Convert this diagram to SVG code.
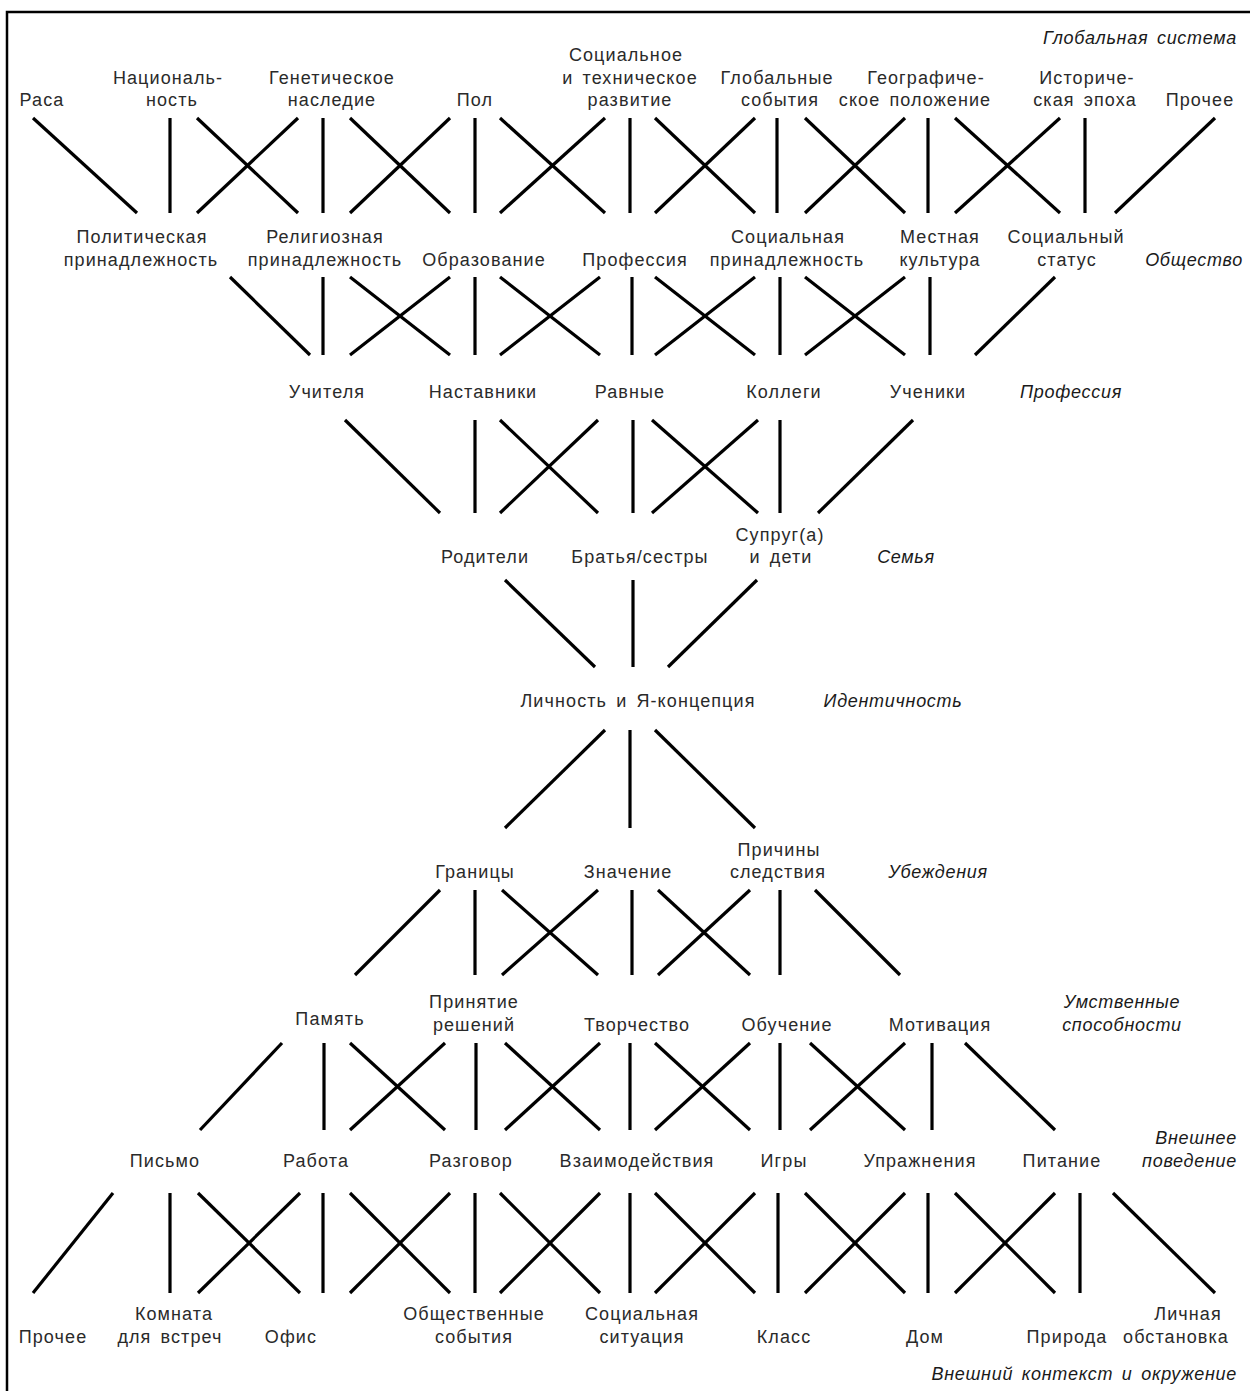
<svg xmlns="http://www.w3.org/2000/svg" width="1250" height="1391" viewBox="0 0 1250 1391">
<style>
text{font-family:"Liberation Sans",Arial,sans-serif;font-size:18px;fill:#2a2a2a;text-anchor:middle;letter-spacing:1.1px;word-spacing:3px}
.lv{font-style:italic;fill:#1a1a1a;letter-spacing:0.7px}
.r{text-anchor:end}
.c line{stroke:#000;stroke-width:3.2;stroke-linecap:butt}
.frame{fill:none;stroke:#000;stroke-width:2.5}
</style>
<rect width="1250" height="1391" fill="#fff"/>
<path class="frame" d="M7,1391 V12 H1250"/>

<g id="connectors" class="c">
<!-- block 1 -->
<line x1="33" y1="118" x2="137" y2="213"/>
<line x1="170" y1="118" x2="170" y2="213"/>
<line x1="197" y1="118" x2="298" y2="213"/><line x1="298" y1="118" x2="197" y2="213"/>
<line x1="323" y1="118" x2="323" y2="213"/>
<line x1="350" y1="118" x2="450" y2="213"/><line x1="450" y1="118" x2="350" y2="213"/>
<line x1="475" y1="118" x2="475" y2="213"/>
<line x1="500" y1="118" x2="605" y2="213"/><line x1="605" y1="118" x2="500" y2="213"/>
<line x1="630" y1="118" x2="630" y2="213"/>
<line x1="655" y1="118" x2="755" y2="213"/><line x1="755" y1="118" x2="655" y2="213"/>
<line x1="777" y1="118" x2="777" y2="213"/>
<line x1="805" y1="118" x2="905" y2="213"/><line x1="905" y1="118" x2="805" y2="213"/>
<line x1="928" y1="118" x2="928" y2="213"/>
<line x1="955" y1="118" x2="1060" y2="213"/><line x1="1060" y1="118" x2="955" y2="213"/>
<line x1="1085" y1="118" x2="1085" y2="213"/>
<line x1="1215" y1="118" x2="1115" y2="213"/>
<!-- block 2 -->
<line x1="230" y1="277" x2="310" y2="355"/>
<line x1="323" y1="277" x2="323" y2="355"/>
<line x1="350" y1="277" x2="450" y2="355"/><line x1="450" y1="277" x2="350" y2="355"/>
<line x1="475" y1="277" x2="475" y2="355"/>
<line x1="500" y1="277" x2="600" y2="355"/><line x1="600" y1="277" x2="500" y2="355"/>
<line x1="632" y1="277" x2="632" y2="355"/>
<line x1="655" y1="277" x2="755" y2="355"/><line x1="755" y1="277" x2="655" y2="355"/>
<line x1="780" y1="277" x2="780" y2="355"/>
<line x1="805" y1="277" x2="905" y2="355"/><line x1="905" y1="277" x2="805" y2="355"/>
<line x1="930" y1="277" x2="930" y2="355"/>
<line x1="1055" y1="277" x2="975" y2="355"/>
<!-- block 3 -->
<line x1="345" y1="420" x2="440" y2="513"/>
<line x1="475" y1="420" x2="475" y2="513"/>
<line x1="500" y1="420" x2="598" y2="513"/><line x1="598" y1="420" x2="500" y2="513"/>
<line x1="633" y1="420" x2="633" y2="513"/>
<line x1="652" y1="420" x2="758" y2="513"/><line x1="758" y1="420" x2="652" y2="513"/>
<line x1="780" y1="420" x2="780" y2="513"/>
<line x1="913" y1="420" x2="818" y2="513"/>
<!-- block 4 -->
<line x1="505" y1="580" x2="595" y2="667"/>
<line x1="633" y1="580" x2="633" y2="667"/>
<line x1="757" y1="580" x2="668" y2="667"/>
<!-- block 5 -->
<line x1="605" y1="730" x2="505" y2="828"/>
<line x1="630" y1="730" x2="630" y2="828"/>
<line x1="655" y1="730" x2="755" y2="828"/>
<!-- block 6 -->
<line x1="440" y1="890" x2="355" y2="975"/>
<line x1="475" y1="890" x2="475" y2="975"/>
<line x1="502" y1="890" x2="598" y2="975"/><line x1="598" y1="890" x2="502" y2="975"/>
<line x1="632" y1="890" x2="632" y2="975"/>
<line x1="658" y1="890" x2="750" y2="975"/><line x1="750" y1="890" x2="658" y2="975"/>
<line x1="780" y1="890" x2="780" y2="975"/>
<line x1="815" y1="890" x2="900" y2="975"/>
<!-- block 7 -->
<line x1="282" y1="1043" x2="200" y2="1130"/>
<line x1="324" y1="1043" x2="324" y2="1130"/>
<line x1="350" y1="1043" x2="445" y2="1130"/><line x1="445" y1="1043" x2="350" y2="1130"/>
<line x1="476" y1="1043" x2="476" y2="1130"/>
<line x1="505" y1="1043" x2="600" y2="1130"/><line x1="600" y1="1043" x2="505" y2="1130"/>
<line x1="630" y1="1043" x2="630" y2="1130"/>
<line x1="655" y1="1043" x2="750" y2="1130"/><line x1="750" y1="1043" x2="655" y2="1130"/>
<line x1="780" y1="1043" x2="780" y2="1130"/>
<line x1="810" y1="1043" x2="905" y2="1130"/><line x1="905" y1="1043" x2="810" y2="1130"/>
<line x1="932" y1="1043" x2="932" y2="1130"/>
<line x1="965" y1="1043" x2="1055" y2="1130"/>
<!-- block 8 -->
<line x1="113" y1="1193" x2="33" y2="1293"/>
<line x1="170" y1="1193" x2="170" y2="1293"/>
<line x1="198" y1="1193" x2="300" y2="1293"/><line x1="300" y1="1193" x2="198" y2="1293"/>
<line x1="323" y1="1193" x2="323" y2="1293"/>
<line x1="350" y1="1193" x2="450" y2="1293"/><line x1="450" y1="1193" x2="350" y2="1293"/>
<line x1="475" y1="1193" x2="475" y2="1293"/>
<line x1="500" y1="1193" x2="600" y2="1293"/><line x1="600" y1="1193" x2="500" y2="1293"/>
<line x1="630" y1="1193" x2="630" y2="1293"/>
<line x1="655" y1="1193" x2="755" y2="1293"/><line x1="755" y1="1193" x2="655" y2="1293"/>
<line x1="778" y1="1193" x2="778" y2="1293"/>
<line x1="805" y1="1193" x2="905" y2="1293"/><line x1="905" y1="1193" x2="805" y2="1293"/>
<line x1="928" y1="1193" x2="928" y2="1293"/>
<line x1="955" y1="1193" x2="1055" y2="1293"/><line x1="1055" y1="1193" x2="955" y2="1293"/>
<line x1="1080" y1="1193" x2="1080" y2="1293"/>
<line x1="1113" y1="1193" x2="1215" y2="1293"/>
</g>

<!-- Level 1: global system -->
<g id="lvl-global"><text class="lv r" x="1237" y="44">Глобальная система</text></g>
<g id="n-rasa"><text x="42" y="106">Раса</text></g>
<g id="n-nation"><text x="168" y="84">Националь-</text><text x="172" y="106">ность</text></g>
<g id="n-genetic"><text x="332" y="84">Генетическое</text><text x="332" y="106">наследие</text></g>
<g id="n-pol"><text x="475" y="106">Пол</text></g>
<g id="n-socdev"><text x="626" y="61">Социальное</text><text x="630" y="84">и техническое</text><text x="630" y="106">развитие</text></g>
<g id="n-globev"><text x="777" y="84">Глобальные</text><text x="780" y="106">события</text></g>
<g id="n-geo"><text x="926" y="84">Географиче-</text><text x="915" y="106">ское положение</text></g>
<g id="n-hist"><text x="1087" y="84">Историче-</text><text x="1085" y="106">ская эпоха</text></g>
<g id="n-other1"><text x="1200" y="106">Прочее</text></g>

<!-- Level 2: society -->
<g id="n-polit"><text x="142" y="243">Политическая</text><text x="141" y="266">принадлежность</text></g>
<g id="n-relig"><text x="325" y="243">Религиозная</text><text x="325" y="266">принадлежность</text></g>
<g id="n-educ"><text x="484" y="266">Образование</text></g>
<g id="n-prof"><text x="635" y="266">Профессия</text></g>
<g id="n-socaff"><text x="788" y="243">Социальная</text><text x="787" y="266">принадлежность</text></g>
<g id="n-local"><text x="940" y="243">Местная</text><text x="940" y="266">культура</text></g>
<g id="n-status"><text x="1066" y="243">Социальный</text><text x="1067" y="266">статус</text></g>
<g id="lvl-society"><text class="lv r" x="1243" y="266">Общество</text></g>

<!-- Level 3: profession -->
<g id="n-teachers"><text x="327" y="398">Учителя</text></g>
<g id="n-mentors"><text x="483" y="398">Наставники</text></g>
<g id="n-peers"><text x="630" y="398">Равные</text></g>
<g id="n-colleagues"><text x="784" y="398">Коллеги</text></g>
<g id="n-students"><text x="928" y="398">Ученики</text></g>
<g id="lvl-profession"><text class="lv" x="1071" y="398">Профессия</text></g>

<!-- Level 4: family -->
<g id="n-parents"><text x="485" y="563">Родители</text></g>
<g id="n-siblings"><text x="640" y="563">Братья/сестры</text></g>
<g id="n-spouse"><text x="780" y="541">Супруг(а)</text><text x="781" y="563">и дети</text></g>
<g id="lvl-family"><text class="lv" x="906" y="563">Семья</text></g>

<!-- Level 5: identity -->
<g id="n-self"><text x="638" y="707">Личность и Я-концепция</text></g>
<g id="lvl-identity"><text class="lv" x="893" y="707">Идентичность</text></g>

<!-- Level 6: beliefs -->
<g id="n-bounds"><text x="475" y="878">Границы</text></g>
<g id="n-meaning"><text x="628" y="878">Значение</text></g>
<g id="n-causes"><text x="779" y="856">Причины</text><text x="778" y="878">следствия</text></g>
<g id="lvl-beliefs"><text class="lv" x="938" y="878">Убеждения</text></g>

<!-- Level 7: mental abilities -->
<g id="n-memory"><text x="330" y="1025">Память</text></g>
<g id="n-decision"><text x="474" y="1008">Принятие</text><text x="474" y="1031">решений</text></g>
<g id="n-creative"><text x="637" y="1031">Творчество</text></g>
<g id="n-learning"><text x="787" y="1031">Обучение</text></g>
<g id="n-motivation"><text x="940" y="1031">Мотивация</text></g>
<g id="lvl-mental"><text class="lv" x="1122" y="1008">Умственные</text><text class="lv" x="1122" y="1031">способности</text></g>

<!-- Level 8: behaviour -->
<g id="n-writing"><text x="165" y="1167">Письмо</text></g>
<g id="n-work"><text x="316" y="1167">Работа</text></g>
<g id="n-talk"><text x="471" y="1167">Разговор</text></g>
<g id="n-interact"><text x="637" y="1167">Взаимодействия</text></g>
<g id="n-games"><text x="784" y="1167">Игры</text></g>
<g id="n-exercise"><text x="920" y="1167">Упражнения</text></g>
<g id="n-food"><text x="1062" y="1167">Питание</text></g>
<g id="lvl-behaviour"><text class="lv r" x="1237" y="1144">Внешнее</text><text class="lv r" x="1237" y="1167">поведение</text></g>

<!-- Level 9: environment -->
<g id="n-other2"><text x="53" y="1343">Прочее</text></g>
<g id="n-meeting"><text x="174" y="1320">Комната</text><text x="170" y="1343">для встреч</text></g>
<g id="n-office"><text x="291" y="1343">Офис</text></g>
<g id="n-public"><text x="474" y="1320">Общественные</text><text x="474" y="1343">события</text></g>
<g id="n-socsit"><text x="642" y="1320">Социальная</text><text x="642" y="1343">ситуация</text></g>
<g id="n-class"><text x="784" y="1343">Класс</text></g>
<g id="n-home"><text x="925" y="1343">Дом</text></g>
<g id="n-nature"><text x="1067" y="1343">Природа</text></g>
<g id="n-personal"><text x="1188" y="1320">Личная</text><text x="1176" y="1343">обстановка</text></g>
<g id="lvl-env"><text class="lv r" x="1237" y="1380">Внешний контекст и окружение</text></g>
</svg>
